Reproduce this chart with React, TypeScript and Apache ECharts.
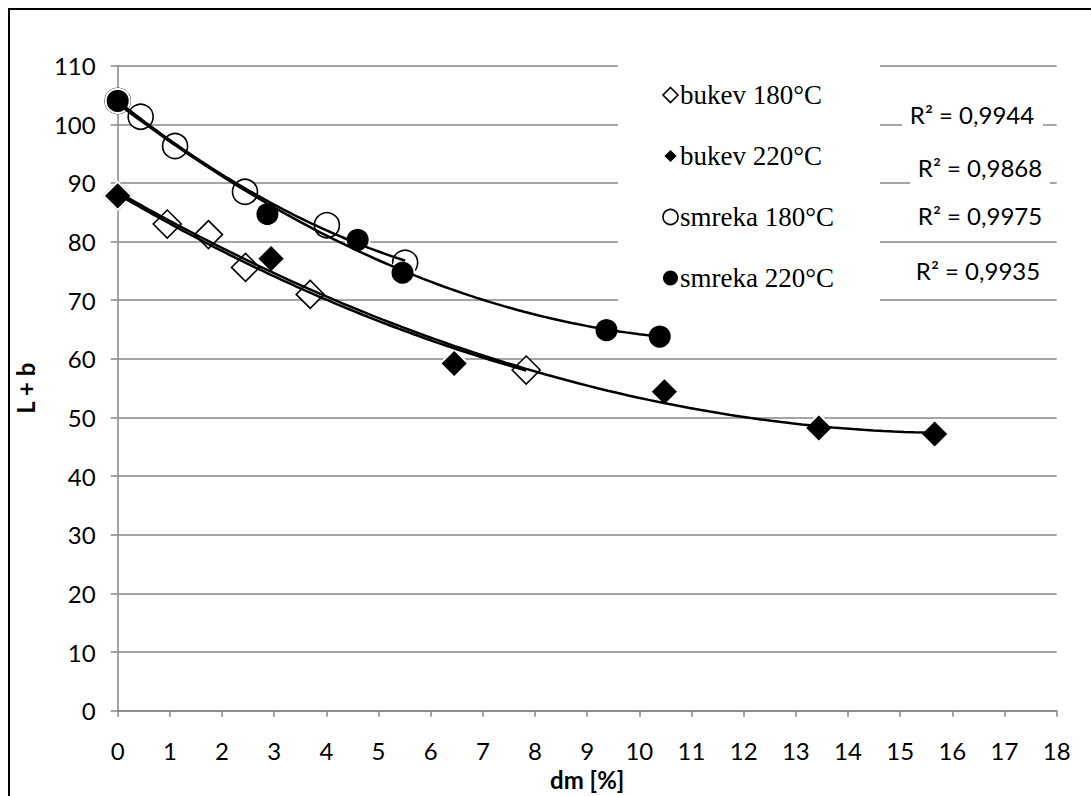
import React, { useEffect, useRef } from "react";
import * as echarts from "echarts";

const xTickValues = [0, 18, 1];
const yTickValues = [0, 110, 10];

const bukev180X = [0, 0.95, 1.74, 2.45, 3.69, 7.83];
const bukev180Y = [87.8, 83.0, 81.2, 75.6, 71.0, 58.1];
const bukev220X = [0, 2.94, 6.45, 10.48, 13.44, 15.66];
const bukev220Y = [87.8, 77.1, 59.2, 54.4, 48.2, 47.2];
const smreka180X = [0, 0.44, 1.1, 2.44, 4.01, 5.51];
const smreka180Y = [104.0, 101.3, 96.3, 88.5, 82.8, 76.4];
const smreka220X = [0, 2.87, 4.6, 5.46, 9.37, 10.39];
const smreka220Y = [104.0, 84.7, 80.3, 74.7, 64.9, 63.8];

const seriesNames = ["bukev 180°C", "bukev 220°C", "smreka 180°C", "smreka 220°C"];
const r2Labels = ["R² = 0,9944", "R² = 0,9868", "R² = 0,9975", "R² = 0,9935"];

const xAxisName = "dm [%]";
const yAxisName = "L + b";

// least squares quadratic fit (Excel polynomial trendline, order 2)
function polyfit2(xs: number[], ys: number[]) {
  const n = xs.length;
  let s0 = n, s1 = 0, s2 = 0, s3 = 0, s4 = 0, t0 = 0, t1 = 0, t2 = 0;
  for (let i = 0; i < n; i++) {
    const x = xs[i], y = ys[i];
    s1 += x; s2 += x * x; s3 += x * x * x; s4 += x * x * x * x;
    t0 += y; t1 += x * y; t2 += x * x * y;
  }
  const A = [
    [s0, s1, s2, t0],
    [s1, s2, s3, t1],
    [s2, s3, s4, t2],
  ];
  for (let c = 0; c < 3; c++) {
    let p = c;
    for (let r = c + 1; r < 3; r++) if (Math.abs(A[r][c]) > Math.abs(A[p][c])) p = r;
    [A[c], A[p]] = [A[p], A[c]];
    for (let r = 0; r < 3; r++) {
      if (r === c) continue;
      const f = A[r][c] / A[c][c];
      for (let k = c; k < 4; k++) A[r][k] -= f * A[c][k];
    }
  }
  return [A[0][3] / A[0][0], A[1][3] / A[1][1], A[2][3] / A[2][2]];
}

function trend(xs: number[], ys: number[]) {
  const [a, b, c] = polyfit2(xs, ys);
  const lo = Math.min(...xs), hi = Math.max(...xs);
  const pts: number[][] = [];
  const steps = 80;
  for (let i = 0; i <= steps; i++) {
    const x = lo + ((hi - lo) * i) / steps;
    pts.push([x, a + b * x + c * x * x]);
  }
  return pts;
}

const zip = (xs: number[], ys: number[]) => xs.map((x, i) => [x, ys[i]]);

export default function App() {
  const ref = useRef<HTMLDivElement>(null);
  useEffect(() => {
    if (!ref.current) return;
    const chart = echarts.init(ref.current, null, { renderer: "svg" });
    const sans = "Lato, 'Open Sans', sans-serif";
    const serif = "'Liberation Serif', 'DejaVu Serif', serif";
    const gray = "#878787";

    const openStyle = { color: "#ffffff", borderColor: "#000000", borderWidth: 1.6, opacity: 1 };
    const fillStyle = { color: "#000000", borderColor: "#ffffff", borderWidth: 2, opacity: 1 };

    const r2Pos = [
      { cx: 972, cy: 114, bx: 902, by: 97, bw: 141, bh: 33 },
      { cx: 980, cy: 167, bx: 910, by: 150, bw: 140, bh: 36 },
      { cx: 980, cy: 215, bx: 910, by: 199, bw: 140, bh: 34 },
      { cx: 978, cy: 270, bx: 910, by: 253, bw: 140, bh: 34 },
    ];
    const graphics: any[] = [];
    r2Labels.forEach((t, i) => {
      const p = r2Pos[i];
      graphics.push({
        type: "rect",
        z: 5,
        shape: { x: p.bx, y: p.by, width: p.bw, height: p.bh },
        style: { fill: "#ffffff" },
        silent: true,
      });
      graphics.push({
        type: "text",
        z: 6,
        x: p.cx,
        y: p.cy,
        style: {
          text: t,
          fill: "#000000",
          font: `24px ${sans}`,
          align: "center",
          verticalAlign: "middle",
        },
        silent: true,
      });
    });
    graphics.push({
      type: "polyline",
      z: 20,
      shape: { points: [[9, 796], [9, 9], [1091, 9]] },
      style: { stroke: "#000000", lineWidth: 2, fill: "none" },
      silent: true,
    });

    chart.setOption({
      animation: false,
      backgroundColor: "#ffffff",
      grid: {
        left: 117.7,
        right: 34.3,
        top: 65.7,
        bottom: 85.3,
        containLabel: false,
        outerBoundsMode: "none",
      },
      legend: {
        orient: "vertical",
        left: 618,
        top: 50,
        padding: [30, 46, 27, 44],
        backgroundColor: "#ffffff",
        itemWidth: 15,
        itemHeight: 15,
        itemGap: 31,
        textStyle: { fontFamily: serif, fontSize: 27, color: "#000000", lineHeight: 30, padding: [0, 0, 0, -3] },
        data: [
          { name: seriesNames[0], icon: "diamond", itemStyle: openStyle },
          { name: seriesNames[1], icon: "diamond", itemStyle: { color: "#000", borderColor: "#fff", borderWidth: 2, opacity: 1 } },
          { name: seriesNames[2], icon: "circle", itemStyle: openStyle },
          { name: seriesNames[3], icon: "circle", itemStyle: { color: "#000", borderWidth: 0, opacity: 1 } },
        ],
        selectedMode: false,
      },
      graphic: graphics,
      xAxis: {
        type: "value",
        min: xTickValues[0],
        max: xTickValues[1],
        interval: xTickValues[2],
        name: xAxisName,
        nameLocation: "middle",
        nameGap: 56,
        nameTextStyle: { fontFamily: sans, fontSize: 24, fontWeight: "bold", color: "#000" },
        axisLine: { show: true, onZero: false, lineStyle: { color: gray, width: 1.5 } },
        axisTick: { show: true, length: 6, lineStyle: { color: gray, width: 1.5 } },
        axisLabel: { margin: 28, fontFamily: sans, fontSize: 24, color: "#000" },
        splitLine: { show: false },
      },
      yAxis: {
        type: "value",
        min: yTickValues[0],
        max: yTickValues[1],
        interval: yTickValues[2],
        name: yAxisName,
        nameLocation: "middle",
        nameGap: 80,
        nameTextStyle: { fontFamily: sans, fontSize: 24, fontWeight: "bold", color: "#000" },
        axisLine: { show: true, onZero: false, lineStyle: { color: gray, width: 1.5 } },
        axisTick: { show: true, length: 7, lineStyle: { color: gray, width: 1.5 } },
        axisLabel: { margin: 22, fontFamily: sans, fontSize: 24, color: "#000" },
        splitLine: { show: true, lineStyle: { color: gray, width: 1.5 } },
      },
      series: [
        {
          name: seriesNames[0],
          type: "scatter",
          symbol: "diamond",
          symbolSize: 28,
          itemStyle: openStyle,
          z: 2,
          data: zip(bukev180X, bukev180Y),
        },
        {
          name: seriesNames[2],
          type: "scatter",
          symbol: "circle",
          symbolSize: 25,
          itemStyle: openStyle,
          z: 2,
          data: zip(smreka180X, smreka180Y),
        },
        {
          name: seriesNames[1],
          type: "scatter",
          symbol: "diamond",
          symbolSize: 28,
          itemStyle: fillStyle,
          z: 3,
          data: zip(bukev220X, bukev220Y),
        },
        {
          name: seriesNames[3],
          type: "scatter",
          symbol: "circle",
          symbolSize: 24,
          itemStyle: fillStyle,
          z: 3,
          data: zip(smreka220X, smreka220Y),
        },
        ...[
          [bukev180X, bukev180Y],
          [bukev220X, bukev220Y],
          [smreka180X, smreka180Y],
          [smreka220X, smreka220Y],
        ].map(([xs, ys], i) => ({
          name: "trend" + i,
          type: "line",
          showSymbol: false,
          symbol: "none",
          silent: true,
          z: 4,
          lineStyle: { color: "#000000", width: 2.5 },
          data: trend(xs, ys),
        })),
      ],
    });
    return () => chart.dispose();
  }, []);
  return (
    <div
      ref={ref}
      style={{ position: "fixed", left: 0, top: 0, width: 1091, height: 796, background: "#fff" }}
    />
  );
}
